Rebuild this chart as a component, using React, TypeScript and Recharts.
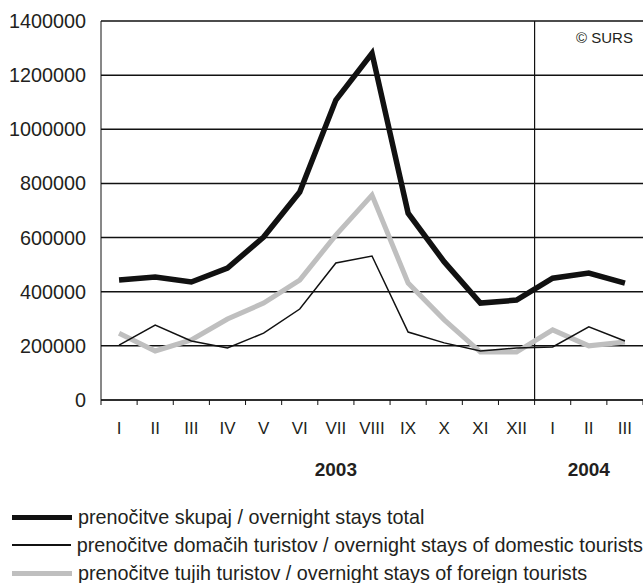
import React from "react";
import {
  LineChart,
  Line,
  XAxis,
  YAxis,
  CartesianGrid,
  ReferenceLine,
  Legend,
} from "recharts";

const months = ["I", "II", "III", "IV", "V", "VI", "VII", "VIII", "IX", "X", "XI", "XII", "I", "II", "III"];
const total = [443000, 454000, 436000, 487000, 602000, 768000, 1108000, 1281000, 690000, 510000, 358000, 369000, 450000, 469000, 432000];
const domestic = [203000, 277000, 218000, 192000, 247000, 336000, 506000, 532000, 251000, 211000, 181000, 192000, 196000, 270000, 218000];
const foreign = [247000, 181000, 222000, 299000, 358000, 443000, 609000, 757000, 432000, 296000, 177000, 177000, 259000, 200000, 214000];
const yTicks = [0, 200000, 400000, 600000, 800000, 1000000, 1200000, 1400000];
const years = ["2003", "2004"];
const yearMonthIndex = [6, 13];
const seriesNames = [
  "prenočitve skupaj / overnight stays total",
  "prenočitve domačih turistov / overnight stays of domestic tourists",
  "prenočitve tujih turistov / overnight stays of foreign tourists",
];

const FONT = "'Liberation Sans', Arial, sans-serif";
const INK = "#231f20";
const GRAY = "#bfbfbf";

const data = months.map((m, i) => ({
  x: i + 0.5,
  month: m,
  total: total[i],
  domestic: domestic[i],
  foreign: foreign[i],
}));

const boundaryTicks = months.map((_, i) => i).concat(months.length);
const monthTicks = months.map((_, i) => i + 0.5);
const yearTicks = yearMonthIndex.map((i) => i + 0.5);

const legendItems = [
  { name: seriesNames[0], color: "#111", h: 5 },
  { name: seriesNames[1], color: "#111", h: 1.5 },
  { name: seriesNames[2], color: GRAY, h: 5 },
];

function LegendBox() {
  return (
    <div style={{ height: 103, paddingTop: 23, boxSizing: "border-box", fontFamily: FONT }}>
      {legendItems.map((it) => (
        <div key={it.name} style={{ display: "flex", alignItems: "center", height: 28 }}>
          <span
            style={{
              display: "inline-block",
              marginLeft: 12,
              width: 60,
              height: it.h,
              background: it.color,
            }}
          />
          <span style={{ marginLeft: 6, fontSize: 19.8, color: INK, whiteSpace: "nowrap" }}>{it.name}</span>
        </div>
      ))}
    </div>
  );
}

export default function App() {
  return (
    <div
      style={{
        position: "absolute",
        left: 0,
        top: 0,
        width: 643,
        height: 583,
        overflow: "hidden",
        background: "#fff",
        fontFamily: FONT,
      }}
    >
      <LineChart width={643} height={583} data={data} margin={{ top: 21, right: 0, bottom: 0, left: 0 }}>
        <CartesianGrid horizontal vertical={false} stroke="#111" strokeWidth={1.5} />
        <XAxis
          xAxisId="b"
          type="number"
          dataKey="x"
          domain={[0, 15]}
          ticks={boundaryTicks}
          interval={0}
          height={10}
          tickSize={5}
          stroke="#111"
          tickFormatter={() => ""}
        />
        <XAxis
          xAxisId="m"
          type="number"
          dataKey="x"
          domain={[0, 15]}
          ticks={monthTicks}
          interval={0}
          height={40}
          axisLine={false}
          tickLine={false}
          tickSize={0}
          tickMargin={12}
          tick={{ fontSize: 17, fill: INK, fontFamily: FONT }}
          tickFormatter={(v: number) => months[Math.floor(v)]}
        />
        <XAxis
          xAxisId="y"
          type="number"
          dataKey="x"
          domain={[0, 15]}
          ticks={yearTicks}
          interval={0}
          height={30}
          axisLine={false}
          tickLine={false}
          tickSize={0}
          tickMargin={13}
          tick={{ fontSize: 19, fill: INK, fontFamily: FONT, fontWeight: "bold" }}
          tickFormatter={(v: number) => years[yearTicks.indexOf(v)] ?? ""}
        />
        <YAxis
          domain={[0, 1400000]}
          ticks={yTicks}
          interval={0}
          width={101}
          stroke="#111"
          tickLine={false}
          tickSize={0}
          tickMargin={15}
          tick={{ fontSize: 19.8, fill: INK, fontFamily: FONT }}
        />
        <ReferenceLine xAxisId="b" x={12} stroke="#111" strokeWidth={1.2} />
        <Line
          xAxisId="b"
          dataKey="foreign"
          name={seriesNames[2]}
          stroke={GRAY}
          strokeWidth={5}
          dot={false}
          isAnimationActive={false}
        />
        <Line
          xAxisId="b"
          dataKey="domestic"
          name={seriesNames[1]}
          stroke="#111"
          strokeWidth={1.5}
          dot={false}
          isAnimationActive={false}
        />
        <Line
          xAxisId="b"
          dataKey="total"
          name={seriesNames[0]}
          stroke="#111"
          strokeWidth={5.5}
          dot={false}
          isAnimationActive={false}
        />
        <Legend
          verticalAlign="bottom"
          align="left"
          wrapperStyle={{ left: 0, bottom: 0, width: 643 }}
          content={() => <LegendBox />}
        />
      </LineChart>
      <div
        style={{
          position: "absolute",
          left: 576,
          top: 29,
          fontSize: 15,
          color: INK,
          whiteSpace: "nowrap",
        }}
      >
        © SURS
      </div>
    </div>
  );
}
